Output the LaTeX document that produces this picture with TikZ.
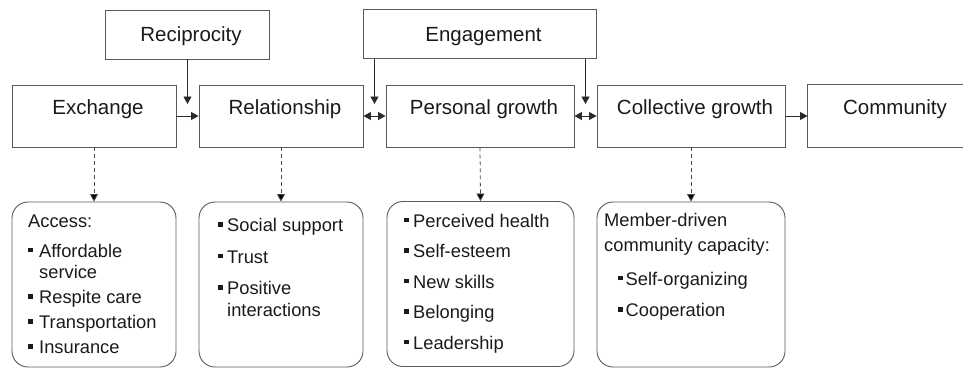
\documentclass[tikz,border=0pt]{standalone}
\usepackage{fontspec}
\setmainfont{Liberation Sans}
\usetikzlibrary{arrows.meta}
\definecolor{boxgray}{HTML}{5A5A5A}
\definecolor{dashgray}{HTML}{4A4A4A}
\definecolor{txt}{HTML}{1A1A1A}
\definecolor{arrcol}{HTML}{2A2A2A}
\newcommand\bulsq{\rule[5pt]{4.4pt}{4.4pt}}
\newcommand\bi[1]{\makebox[#1][l]{\bulsq}}
\begin{document}
\begin{tikzpicture}[x=1pt,y=-1pt,
  boxline/.style={draw=boxgray, line width=0.9pt},
  mainbox/.style={boxline, rectangle, inner sep=0pt, minimum height=62pt,
    text height=15pt, text depth=18pt, text=txt,
    font=\fontsize{20.5}{24}\selectfont, execute at begin node=\hspace*{8pt}},
  topbox/.style={boxline, rectangle, inner sep=0pt, minimum height=49pt,
    text height=15pt, text depth=0.6pt, text=txt,
    font=\fontsize{20.5}{24}\selectfont, execute at begin node=\hspace*{8pt}},
  detbox/.style={boxline, rectangle, rounded corners=16pt, inner sep=0pt, minimum height=165pt},
  dettext/.style={inner sep=0pt, anchor=base west, text=txt, font=\fontsize{18.3}{21.5}\selectfont},
  arr/.style={draw=arrcol, line width=0.8pt, -{Triangle[length=7.5pt,width=8pt]}},
  arrtwo/.style={draw=arrcol, line width=0.8pt, {Triangle[length=7.5pt,width=8pt]}-{Triangle[length=7.5pt,width=8pt]}},
  darr/.style={draw=dashgray, line width=0.8pt, dash pattern=on 4pt off 3pt, -{Triangle[length=7.5pt,width=8pt,fill=black]}}
]
\useasboundingbox (0,0) rectangle (963,381);

% top boxes
\node[topbox, minimum width=164pt] (rec) at (187,34.5) {Reciprocity};
\node[topbox, minimum width=233pt] (eng) at (479.5,34) {Engagement};

% main boxes
\node[mainbox, minimum width=164pt] (ex) at (94,116) {Exchange};
\node[mainbox, minimum width=164pt] (rel) at (281,116) {Relationship};
\node[mainbox, minimum width=188pt] (per) at (480,116) {Personal growth};
\node[mainbox, minimum width=188pt] (col) at (691,116) {Collective growth};
\node[mainbox, draw=none, minimum width=166pt] (com) at (891,116) {Community};
\coordinate (rightedge) at (963,0);
\draw[boxline] (com.north west -| rightedge) -- (com.north west) -- (com.south west) -- (com.south west -| rightedge);

% arrows between main boxes
\draw[arr] (ex.east) -- (rel.west);
\draw[arrtwo] (rel.east) -- (per.west);
\draw[arrtwo] (per.east) -- (col.west);
\draw[arr] (col.east) -- (com.west);

% arrows from top boxes
\coordinate (recend) at (187.5,104);
\coordinate (engendA) at (374.5,104);
\coordinate (engendB) at (585.5,104);
\draw[arr] (recend |- rec.south) -- (recend);
\draw[arr] (engendA |- eng.south) -- (engendA);
\draw[arr] (engendB |- eng.south) -- (engendB);

% detail boxes
\node[detbox, minimum width=164pt] (exd) at (94,284.5) {};
\node[detbox, minimum width=164pt] (reld) at (281,284.5) {};
\node[detbox, minimum width=187pt] (perd) at (480.5,284) {};
\node[detbox, minimum width=188pt] (cold) at (691,284.5) {};

\draw[darr] (ex.south) -- (exd.north);
\draw[darr] (rel.south) -- (reld.north);
\draw[darr] (per.south) -- (perd.north);
\draw[darr] (col.south) -- (cold.north);

% detail texts
\node[dettext] (exdt) at (28,227) {\begin{tabular}[t]{@{}l@{}}
Access:\\[8.5pt]
\bi{11pt}Affordable\\
\hspace*{11pt}service\\[3.5pt]
\bi{11pt}Respite care\\[3.5pt]
\bi{11pt}Transportation\\[3.5pt]
\bi{11pt}Insurance
\end{tabular}};
\node[dettext] (reldt) at (218,231.5) {\begin{tabular}[t]{@{}l@{}}
\bi{9pt}Social support\\[10pt]
\bi{9pt}Trust\\[10pt]
\bi{9pt}Positive\\
\hspace*{9pt}interactions
\end{tabular}};
\node[dettext] (perdt) at (404,227.3) {\begin{tabular}[t]{@{}l@{}}
\bi{9pt}Perceived health\\[9pt]
\bi{9pt}Self-esteem\\[9pt]
\bi{9pt}New skills\\[9pt]
\bi{9pt}Belonging\\[9pt]
\bi{9pt}Leadership
\end{tabular}};
\node[dettext] (coldt) at (604,226.7) {\begin{tabular}[t]{@{}l@{}}
Member-driven\\[3.5pt]
community capacity:\\[11.8pt]
\hspace*{14pt}\bi{7.5pt}Self-organizing\\[10.2pt]
\hspace*{14pt}\bi{7.5pt}Cooperation
\end{tabular}};
\end{tikzpicture}
\end{document}
